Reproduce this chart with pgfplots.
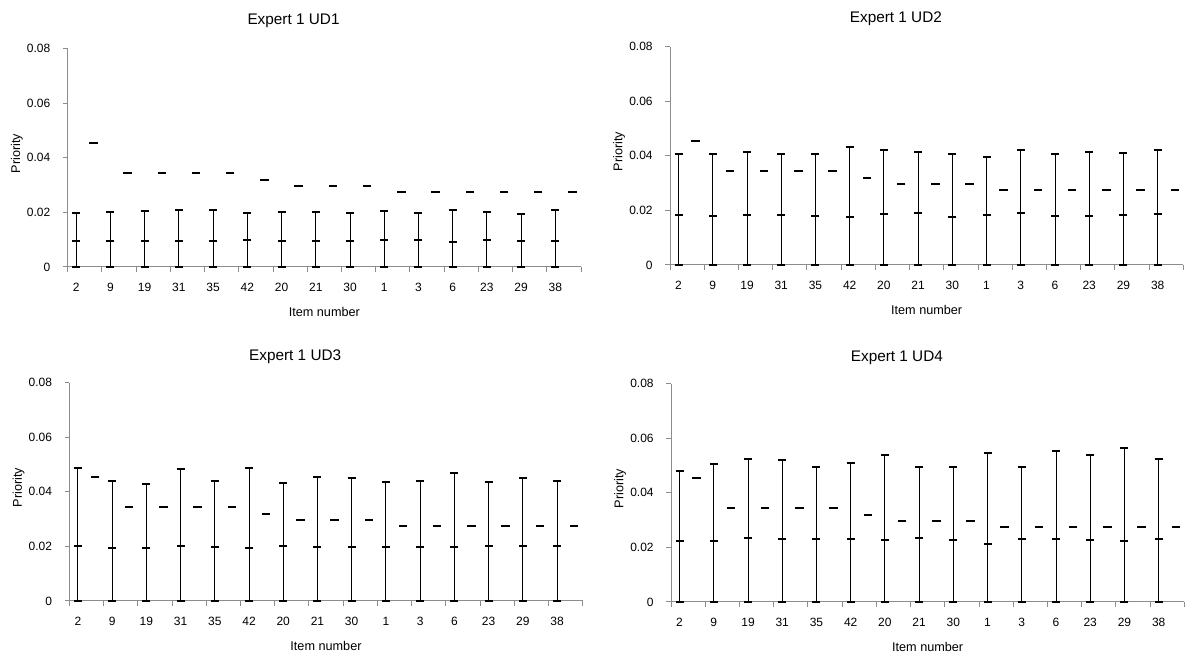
\documentclass[border=0pt]{standalone}
\usepackage{fontspec}
\setmainfont{Liberation Sans}
\usepackage{pgfplots}
\pgfplotsset{compat=1.18}
\usepackage{pgfplotstable}

\pgfplotstableread{
x mid top
0.25 0.0095 0.0199
1.25 0.0095 0.0203
2.25 0.0095 0.0206
3.25 0.0095 0.0209
4.25 0.0095 0.0209
5.25 0.0100 0.0198
6.25 0.0095 0.0203
7.25 0.0095 0.0203
8.25 0.0095 0.0199
9.25 0.0100 0.0206
10.25 0.0098 0.0198
11.25 0.0090 0.0209
12.25 0.0098 0.0203
13.25 0.0095 0.0193
14.25 0.0095 0.0209
}\udone

\pgfplotstableread{
x mid top
0.25 0.0183 0.0405
1.25 0.0178 0.0407
2.25 0.0183 0.0415
3.25 0.0183 0.0407
4.25 0.0178 0.0407
5.25 0.0174 0.0432
6.25 0.0187 0.0420
7.25 0.0190 0.0415
8.25 0.0174 0.0405
9.25 0.0183 0.0395
10.25 0.0190 0.0423
11.25 0.0178 0.0405
12.25 0.0178 0.0415
13.25 0.0183 0.0411
14.25 0.0187 0.0420
}\udtwo

\pgfplotstableread{
x mid top
0.25 0.0200 0.0486
1.25 0.0193 0.0440
2.25 0.0193 0.0427
3.25 0.0200 0.0483
4.25 0.0196 0.0440
5.25 0.0193 0.0486
6.25 0.0200 0.0431
7.25 0.0196 0.0454
8.25 0.0196 0.0451
9.25 0.0196 0.0437
10.25 0.0196 0.0440
11.25 0.0196 0.0468
12.25 0.0200 0.0436
13.25 0.0200 0.0451
14.25 0.0200 0.0440
}\udthree

\pgfplotstableread{
x mid top
0.25 0.0222 0.0480
1.25 0.0222 0.0505
2.25 0.0234 0.0524
3.25 0.0230 0.0521
4.25 0.0230 0.0496
5.25 0.0230 0.0509
6.25 0.0227 0.0537
7.25 0.0234 0.0496
8.25 0.0227 0.0496
9.25 0.0213 0.0544
10.25 0.0230 0.0493
11.25 0.0230 0.0552
12.25 0.0227 0.0537
13.25 0.0222 0.0565
14.25 0.0230 0.0524
}\udfour

\pgfplotstableread{
x ref
0.75 0.0455
1.75 0.0343
2.75 0.0343
3.75 0.0343
4.75 0.0343
5.75 0.0320
6.75 0.0298
7.75 0.0298
8.75 0.0298
9.75 0.0276
10.75 0.0276
11.75 0.0276
12.75 0.0276
13.75 0.0276
14.75 0.0276
}\refvals

\pgfplotsset{
  expert/.style={
    scale only axis, width=385pt, height=163.8pt,
    xmin=0, xmax=15, ymin=0, ymax=0.08,
    clip=false,
    scaled y ticks=false,
    axis lines*=left,
    axis line style={draw=black!45, line width=0.75pt},
    tick align=outside,
    xtick={0.25,1.25,2.25,3.25,4.25,5.25,6.25,7.25,8.25,9.25,10.25,11.25,12.25,13.25,14.25},
    xticklabels={2,9,19,31,35,42,20,21,30,1,3,6,23,29,38},
    major x tick style={draw=none},
    minor xtick={0,1,...,15},
    minor tick length=3.5pt,
    major tick length=3.5pt,
    ytick={0,0.02,0.04,0.06,0.08},
    yticklabels={0,0.02,0.04,0.06,0.08},
    tick style={draw=black!45, line width=0.75pt},
    tick label style={font=\fontsize{9}{10}\selectfont},
    xticklabel style={yshift=-5pt},
    yticklabel style={xshift=-6pt},
    xlabel={Item number},
    ylabel={Priority},
    label style={font=\fontsize{9.5}{11}\selectfont},
    xlabel style={at={(0.5,0)}, anchor=base, yshift=-37pt},
    ylabel style={at={(-0.099,0.52)}, anchor=center},
    title style={font=\fontsize{11.5}{13}\selectfont, at={(0.44,1)}, anchor=base},
  },
  errs/.style={black, only marks, mark=-, mark size=3pt,
    mark options={line width=1.5pt},
    error bars/.cd, y dir=both, y explicit,
    error mark=-, error mark options={rotate=90, mark size=3pt, line width=1.5pt, black},
    error bar style={line width=0.75pt, black}},
  refs/.style={black, only marks, mark=-, mark size=3.2pt, mark options={line width=1.5pt}},
}

\begin{document}
\begin{tikzpicture}
\useasboundingbox (0,0) rectangle (888.75pt,492pt);

\begin{axis}[expert, at={(50.75pt,291.75pt)}, anchor=south west,
  title={Expert 1 UD1}, title style={yshift=12pt}]
\addplot[errs] table[x=x, y=mid, y error plus expr=\thisrow{top}-\thisrow{mid}, y error minus expr=\thisrow{mid}] {\udone};
\addplot[refs] table[x=x, y=ref] {\refvals};
\end{axis}

\begin{axis}[expert, at={(502.5pt,293.25pt)}, anchor=south west,
  title={Expert 1 UD2}, title style={yshift=12pt}]
\addplot[errs] table[x=x, y=mid, y error plus expr=\thisrow{top}-\thisrow{mid}, y error minus expr=\thisrow{mid}] {\udtwo};
\addplot[refs] table[x=x, y=ref] {\refvals};
\end{axis}

\begin{axis}[expert, at={(52pt,41.25pt)}, anchor=south west,
  title={Expert 1 UD3}, title style={yshift=10.5pt}]
\addplot[errs] table[x=x, y=mid, y error plus expr=\thisrow{top}-\thisrow{mid}, y error minus expr=\thisrow{mid}] {\udthree};
\addplot[refs] table[x=x, y=ref] {\refvals};
\end{axis}

\begin{axis}[expert, at={(503.25pt,40.5pt)}, anchor=south west,
  title={Expert 1 UD4}, title style={yshift=10.5pt}]
\addplot[errs] table[x=x, y=mid, y error plus expr=\thisrow{top}-\thisrow{mid}, y error minus expr=\thisrow{mid}] {\udfour};
\addplot[refs] table[x=x, y=ref] {\refvals};
\end{axis}
\end{tikzpicture}
\end{document}
